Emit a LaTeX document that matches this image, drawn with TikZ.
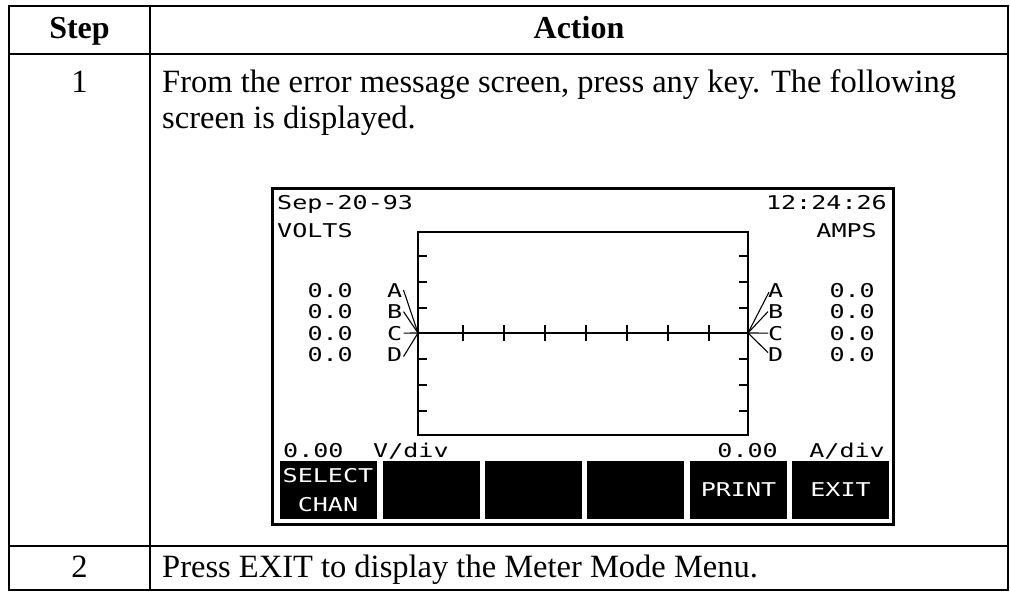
\documentclass[tikz,border=0pt]{standalone}
\usepackage{fontspec}
\setmainfont{Liberation Serif}
\newfontfamily\lcdfont[FakeStretch=1.32]{DejaVu Sans Mono}
\tikzset{
  tline/.style={line width=2pt},
  gline/.style={line width=2pt},
  fanline/.style={line width=1.1pt},
  hdr/.style={font=\bfseries\fontsize{32}{36}\selectfont, inner sep=0pt},
  body/.style={font=\fontsize{32.5}{36}\selectfont, inner sep=0pt},
  lcd/.style={font=\lcdfont\fontsize{19}{19}\selectfont, inner sep=0pt},
  btn/.style={fill=black, text=white, font=\lcdfont\fontsize{19}{29}\selectfont, inner sep=0pt,
    minimum width=97pt, minimum height=58pt, align=center}
}
\begin{document}
\begin{tikzpicture}[x=1pt,y=-1pt]
\useasboundingbox (0,0) rectangle (1010,592);
% table
\draw[tline] (9,6) rectangle (1008,590);
\draw[tline] (9,54) -- (1008,54);
\draw[tline] (9,546) -- (1008,546);
\draw[tline] (150,6) -- (150,590);
\node[hdr, anchor=base] (hstep) at (79.5,38) {Step};
\node[hdr, anchor=base] (hact) at (579,38) {Action};
\node[body, anchor=base] (n1) at (79.5,92) {1};
\node[body, anchor=base west] (t1a) at (162,92) {From the error message screen, press any key. The following};
\node[body, anchor=base west] (t1b) at (162,128) {screen is displayed.};
\node[body, anchor=base] (n2) at (79.5,577) {2};
\node[body, anchor=base west] (t2) at (162,577) {Press EXIT to display the Meter Mode Menu.};
% screen
\draw[line width=3pt] (272,188) rectangle (893,524);
\draw[gline] (418,232) rectangle (748,435);
\draw[gline] (418,333) -- (748,333);
\foreach \y in {256,282,308,359,385,411} {
  \draw[gline] (418,\y) -- (427,\y);
  \draw[gline] (748,\y) -- (739,\y);
}
\foreach \x in {463,504,545,586,627,668,709} {
  \draw[gline] (\x,325) -- (\x,341);
}
\coordinate (oL) at (418,333);
\coordinate (oR) at (748,333);
\node[lcd, anchor=base west] (date) at (277,209) {Sep-20-93};
\node[lcd, anchor=base west] (volts) at (277,237) {VOLTS};
\node[lcd, anchor=base east] (time) at (887,209) {12:24:26};
\node[lcd, anchor=base east] (amps) at (877,237) {AMPS};
\foreach \n/\b in {A/297,B/318.5,C/340,D/361.5} {
  \node[lcd, anchor=base east] (lv\n) at (353,\b) {0.0};
  \node[lcd, anchor=base west] (l\n) at (387,\b) {\n};
  \node[lcd, anchor=base west] (r\n) at (768,\b) {\n};
  \node[lcd, anchor=base east] (rv\n) at (875,\b) {0.0};
}
\draw[fanline] ([xshift=1pt]lA.east) -- (oL);
\draw[fanline] ([xshift=1pt]lB.east) -- (oL);
\draw[fanline] ([xshift=1pt]lC.east) -- (oL);
\draw[fanline] ([xshift=1pt,yshift=-2pt]lD.east) -- (oL);
\draw[fanline] (oR) -- ([xshift=1pt,yshift=-2pt]rA.west);
\draw[fanline] (oR) -- (rB.west);
\draw[fanline] (oR) -- (rC.west);
\draw[fanline] (oR) -- ([yshift=2pt]rD.west);
\node[lcd, anchor=base west] (vdivn) at (283,457) {0.00};
\node[lcd, anchor=base west] (vdiv) at (373,457) {V/div};
\node[lcd, anchor=base east] (adivn) at (778,457) {0.00};
\node[lcd, anchor=base east] (adiv) at (885,457) {A/div};
% buttons
\node[btn] (b1) at (328,490) {SELECT\\CHAN};
\node[btn] (b2) at (431,490) {};
\node[btn] (b3) at (533.5,490) {};
\node[btn] (b4) at (635.5,490) {};
\node[btn] (b5) at (738.5,490) {PRINT};
\node[btn] (b6) at (840.5,490) {EXIT};
\end{tikzpicture}
\end{document}
